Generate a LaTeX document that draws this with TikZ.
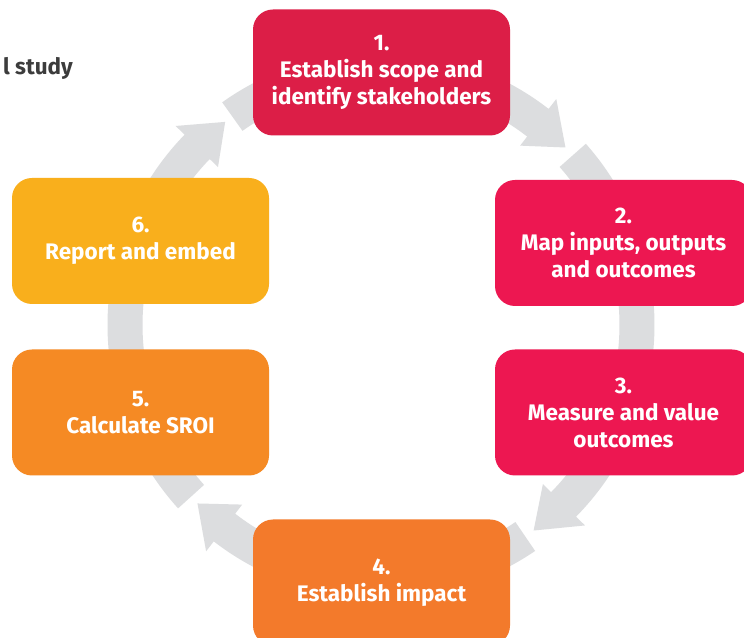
\documentclass[tikz,border=0pt]{standalone}
\usepackage{fontspec}
\setmainfont{Fira Sans}
\definecolor{ringgray}{HTML}{DCDDDF}
\definecolor{cA}{HTML}{DC1E47}
\definecolor{cB}{HTML}{ED1751}
\definecolor{cD}{HTML}{F37A2B}
\definecolor{cE}{HTML}{F58A24}
\definecolor{cF}{HTML}{F9AF1C}
\definecolor{titlegray}{HTML}{3C3C3C}
\tikzset{
  stagebox/.style={rectangle, rounded corners=20pt, minimum width=257pt, minimum height=126pt,
    inner sep=0pt, text=white, align=center, font=\bfseries\fontsize{22.5}{27}\selectfont},
  ringarrow/.style={fill=ringgray, draw=none}
}
\newcommand{\ringarrow}[3]{%
  \fill[ringgray] (#1:273.5) arc[start angle=#1, end angle=#2, radius=273.5pt]
    -- (#2:286) -- (#3:256) -- (#2:227)
    -- (#2:238.5) arc[start angle=#2, end angle=#1, radius=238.5pt] -- cycle;}
\begin{document}
\begin{tikzpicture}[x=1pt,y=1pt]
\useasboundingbox (0,0) rectangle (744,637);
\clip (0,0) rectangle (744,637);
\fill[white] (0,0) rectangle (744,637);
\coordinate (ctr) at (381,312);
\begin{scope}[shift={(ctr)}]
  \ringarrow{125.5}{52.2}{43.9}
  \ringarrow{41.5}{-44.5}{-53.4}
  \ringarrow{-55.7}{-127.7}{-135.8}
  \ringarrow{222.1}{135.9}{127.5}
\end{scope}
\node[stagebox, fill=cA] (s1) at (381.5,564.5) {1.\\Establish scope and\\identify stakeholders};
\node[stagebox, fill=cB] (s2) at (623.5,394) {2.\\Map inputs, outputs\\and outcomes};
\node[stagebox, fill=cB] (s3) at (623.5,224.5) {3.\\Measure and value\\outcomes};
\node[stagebox, fill=cD] (s4) at (381.5,54.5) {4.\\Establish impact};
\node[stagebox, fill=cE] (s5) at (140.5,224.5) {5.\\Calculate SROI};
\node[stagebox, fill=cF] (s6) at (140.5,396) {6.\\Report and embed};
\node[anchor=base east, inner sep=0pt, text=titlegray, font=\bfseries\fontsize{22.5}{27}\selectfont] (title) at (73,562) {l study};
\end{tikzpicture}
\end{document}
